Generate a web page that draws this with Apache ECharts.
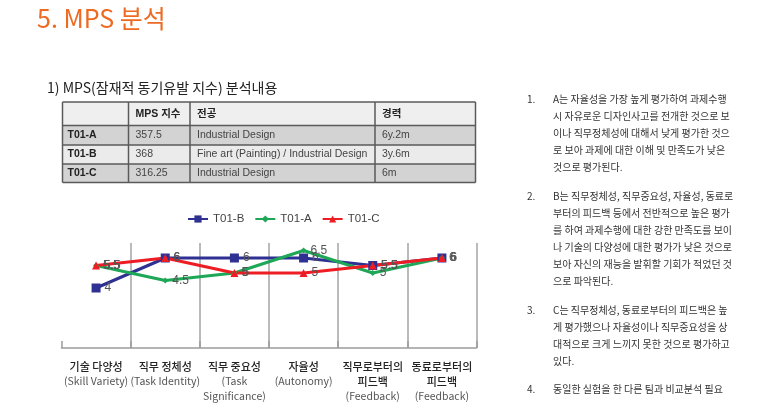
<!DOCTYPE html>
<html>
<head>
<meta charset="utf-8">
<script src="https://cdn.jsdelivr.net/npm/echarts@6/dist/echarts.min.js"></script>
<style>html,body{margin:0;padding:0;background:#fff;}#c{width:762px;height:418px;}</style>
</head>
<body>
<div id="c"></div>
<script>
// ---- data ----
const catKo = [['기술 다양성'], ['직무 정체성'], ['직무 중요성'], ['자율성'], ['직무로부터의', '피드백'], ['동료로부터의', '피드백']];
const catEn = [['(Skill Variety)'], ['(Task Identity)'], ['(Task', 'Significance)'], ['(Autonomy)'], ['(Feedback)'], ['(Feedback)']];
const seriesNames = ['T01-B', 'T01-A', 'T01-C'];
const valuesB = [4, 6, 6, 6, 5.5, 6];
const valuesA = [5.5, 4.5, 5, 6.5, 5, 6];
const valuesC = [5.5, 6, 5, 5, 5.5, 6];

const titleText = '5. MPS 분석';
const subtitleText = '1) MPS(잠재적 동기유발 지수) 분석내용';
const tableHeader = ['', 'MPS 지수', '전공', '경력'];
const tableRows = [
  ['T01-A', '357.5', 'Industrial Design', '6y.2m'],
  ['T01-B', '368', 'Fine art (Painting) / Industrial Design', '3y.6m'],
  ['T01-C', '316.25', 'Industrial Design', '6m']
];
const notes = [
  ['A는 자율성을 가장 높게 평가하여 과제수행', '시 자유로운 디자인사고를 전개한 것으로 보', '이나 직무정체성에 대해서 낮게 평가한 것으', '로 보아 과제에 대한 이해 및 만족도가 낮은', '것으로 평가된다.'],
  ['B는 직무정체성, 직무중요성, 자율성, 동료로', '부터의 피드백 등에서 전반적으로 높은 평가', '를 하여 과제수행에 대한 강한 만족도를 보이', '나 기술의 다양성에 대한 평가가 낮은 것으로', '보아 자신의 재능을 발휘할 기회가 적었던 것', '으로 파악된다.'],
  ['C는 직무정체성, 동료로부터의 피드백은 높', '게 평가했으나 자율성이나 직무중요성을 상', '대적으로 크게 느끼지 못한 것으로 평가하고', '있다.'],
  ['동일한 실험을 한 다른 팀과 비교분석 필요']
];

// ---- layout ----
const KR = '"Noto Sans CJK KR", "Noto Sans", sans-serif';
const LAT = '"Liberation Sans", Arial, sans-serif';
const TAB = '"Liberation Sans", "Noto Sans CJK KR", sans-serif';
const colX = [62.5, 128.5, 190, 375, 475.5];
const rowY = [102, 125.5, 145, 164, 182.5];
const rowFill = ['#efefef', '#d3d3d3', '#ebebeb', '#d3d3d3'];
const noteY = [99, 196, 310, 389];
const noteLH = 17;

const graphics = [];
graphics.push({type: 'text', style: {x: 37, y: 18, text: titleText, fontSize: 25, fontFamily: KR, fill: '#EE6A22', textVerticalAlign: 'middle'}});
graphics.push({type: 'text', style: {x: 47, y: 88, text: subtitleText, fontSize: 14, fontFamily: KR, fill: '#222', textVerticalAlign: 'middle'}});

// table
for (let r = 0; r < 4; r++) {
  graphics.push({type: 'rect', shape: {x: colX[0], y: rowY[r], width: colX[4] - colX[0], height: rowY[r + 1] - rowY[r]}, style: {fill: rowFill[r]}});
}
for (let r = 0; r < rowY.length; r++) {
  graphics.push({type: 'line', shape: {x1: colX[0], y1: rowY[r], x2: colX[4], y2: rowY[r]}, style: {stroke: '#5a5a5a', lineWidth: 1.5}});
}
for (let c = 0; c < colX.length; c++) {
  graphics.push({type: 'line', shape: {x1: colX[c], y1: rowY[0], x2: colX[c], y2: rowY[4]}, style: {stroke: '#5a5a5a', lineWidth: 1.5}});
}
const allRows = [tableHeader].concat(tableRows);
allRows.forEach((row, r) => {
  row.forEach((txt, c) => {
    if (!txt) return;
    const bold = (r === 0 || c === 0);
    graphics.push({type: 'text', style: {x: colX[c] + (c === 0 ? 5 : 7), y: (rowY[r] + rowY[r + 1]) / 2, text: txt, fontSize: 10.5,
      fontFamily: TAB, fontWeight: bold ? 'bold' : 'normal', fill: bold ? '#222' : '#444', textVerticalAlign: 'middle'}});
  });
});

// notes
notes.forEach((lines, i) => {
  graphics.push({type: 'text', style: {x: 527, y: noteY[i], text: (i + 1) + '.', fontSize: 10, fontFamily: KR, fill: '#333', textVerticalAlign: 'middle'}});
  lines.forEach((ln, j) => {
    graphics.push({type: 'text', style: {x: 553, y: noteY[i] + j * noteLH, text: ln, fontSize: 10, fontFamily: KR, fill: '#333', textVerticalAlign: 'middle'}});
  });
});

const categories = catKo.map((k, i) => k.join(' ') + ' ' + catEn[i].join(' '));

const chart = echarts.init(document.getElementById('c'), null, {renderer: 'canvas'});
const labelCfg = {show: true, position: 'right', distance: 4, color: '#555', fontSize: 12, fontFamily: LAT};
chart.setOption({
  animation: false,
  backgroundColor: '#fff',
  graphic: graphics,
  legend: {
    data: seriesNames, left: 182, top: 208, itemWidth: 20, itemHeight: 9, itemGap: 10,
    textStyle: {fontSize: 11.5, color: '#444', fontFamily: LAT}
  },
  grid: {left: 61.5, right: 285.5, top: 243, bottom: 70},
  xAxis: {
    type: 'category', data: categories, boundaryGap: true,
    axisLine: {lineStyle: {color: '#9c9c9c', width: 1.5}},
    axisTick: {show: true, inside: true, length: 7, lineStyle: {color: '#9c9c9c', width: 1.5}},
    splitLine: {show: true, showMinLine: false, lineStyle: {color: '#a3a3a3', width: 1.5}},
    axisLabel: {
      interval: 0, margin: 11,
      formatter: function (v, i) {
        const parts = catKo[i].map(s => '{ko|' + s + '}').concat(catEn[i].map(s => '{en|' + s + '}'));
        return parts.join('\n');
      },
      rich: {
        ko: {fontSize: 11, color: '#222', fontFamily: KR, fontWeight: 500, lineHeight: 15},
        en: {fontSize: 10.5, color: '#555', fontFamily: KR, lineHeight: 15}
      }
    }
  },
  yAxis: {type: 'value', min: 0, max: 7, show: false, splitLine: {show: false}},
  series: [
    {name: seriesNames[0], type: 'line', data: valuesB, symbol: 'rect', symbolSize: 9,
      lineStyle: {width: 3, color: '#2E3192'}, itemStyle: {color: '#2E3192'}, label: labelCfg},
    {name: seriesNames[1], type: 'line', data: valuesA, symbol: 'diamond', symbolSize: 6,
      lineStyle: {width: 3, color: '#1DA756'}, itemStyle: {color: '#1DA756'}, label: labelCfg},
    {name: seriesNames[2], type: 'line', data: valuesC, symbol: 'triangle', symbolSize: 8,
      lineStyle: {width: 3, color: '#EE1D23'}, itemStyle: {color: '#EE1D23'}, label: labelCfg}
  ]
});
</script>
</body>
</html>
